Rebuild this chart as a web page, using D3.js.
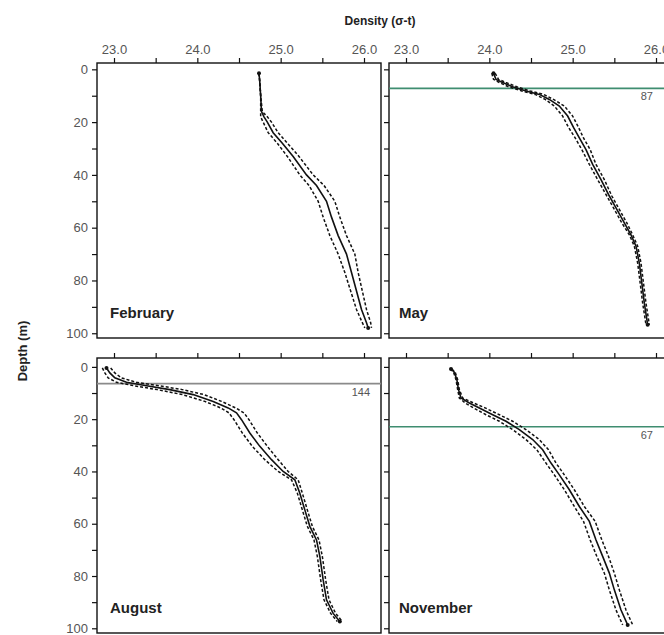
<!DOCTYPE html>
<html>
<head>
<meta charset="utf-8">
<script src="https://cdn.jsdelivr.net/npm/d3@7"></script>
<style>
  body { margin: 0; background: #fff; }
  svg { display: block; font-family: "Liberation Sans", Arial, sans-serif; }
</style>
</head>
<body>
<svg id="chart" width="664" height="635"></svg>
<script>
// density ticks (sigma-t) and depth ticks
const densityTicks = [23.0, 23.5, 24.0, 24.5, 25.0, 25.5, 26.0];
const depthTicks = [0, 10, 20, 30, 40, 50, 60, 70, 80, 90, 100];

// February
const febDepth = [1.5, 5, 10, 16, 18, 20, 24, 28, 33, 40, 44, 50, 56, 63, 70, 77, 84, 91, 96, 98];
const febMean  = [24.74, 24.75, 24.76, 24.77, 24.80, 24.84, 24.91, 25.02, 25.15, 25.31, 25.43, 25.55, 25.61, 25.69, 25.79, 25.85, 25.91, 25.97, 26.03, 26.05];
const febSd    = [0, 0, 0, 0.01, 0.04, 0.05, 0.06, 0.06, 0.07, 0.08, 0.09, 0.1, 0.1, 0.1, 0.1, 0.08, 0.07, 0.06, 0.05, 0.04];

// May
const mayDepth = [1.5, 3.8, 5, 6.6, 8.2, 9.5, 11.4, 13.9, 17.7, 22, 26, 30.4, 36, 41.8, 48, 52.5, 58.2, 62.7, 67, 73.4, 81, 88.6, 96.8];
const mayMean  = [24.05, 24.08, 24.16, 24.28, 24.44, 24.60, 24.72, 24.84, 24.94, 25.01, 25.08, 25.16, 25.24, 25.34, 25.44, 25.52, 25.62, 25.70, 25.76, 25.80, 25.83, 25.86, 25.90];
const maySd    = [0.02, 0.03, 0.04, 0.05, 0.05, 0.05, 0.05, 0.06, 0.06, 0.06, 0.05, 0.05, 0.04, 0.04, 0.03, 0.03, 0.03, 0.02, 0.02, 0.02, 0.02, 0.02, 0.02];

// August
const augDepth = [0.4, 2.3, 4.2, 5.9, 7.2, 8.7, 10.6, 13.2, 15.7, 17.6, 20.2, 25.3, 30.4, 35.5, 40, 43.2, 48.3, 54.7, 61, 66.2, 72.5, 81.5, 89.1, 94.3, 97.4];
const augMean  = [22.91, 22.95, 23.01, 23.15, 23.39, 23.67, 23.95, 24.19, 24.37, 24.47, 24.53, 24.63, 24.75, 24.89, 25.03, 25.17, 25.23, 25.29, 25.35, 25.43, 25.47, 25.51, 25.55, 25.63, 25.71];
const augSd    = [0.05, 0.06, 0.08, 0.12, 0.15, 0.15, 0.13, 0.1, 0.09, 0.09, 0.09, 0.09, 0.09, 0.08, 0.06, 0.04, 0.03, 0.03, 0.03, 0.03, 0.03, 0.03, 0.03, 0.03, 0.03];

// November
const novDepth = [0.8, 2, 4.9, 8.7, 11.9, 13.8, 15.7, 18.3, 20.8, 24, 27.8, 31.7, 36.8, 41.3, 47, 53.4, 59.1, 66.2, 72.5, 78.9, 85.3, 93, 98.7];
const novMean  = [23.54, 23.58, 23.61, 23.63, 23.66, 23.76, 23.88, 24.04, 24.20, 24.36, 24.52, 24.64, 24.74, 24.84, 24.96, 25.08, 25.20, 25.28, 25.36, 25.44, 25.50, 25.58, 25.66];
const novSd    = [0.01, 0.01, 0.01, 0.01, 0.02, 0.05, 0.07, 0.08, 0.08, 0.08, 0.08, 0.07, 0.06, 0.06, 0.06, 0.06, 0.07, 0.07, 0.07, 0.06, 0.06, 0.06, 0.06];

// mixed layer depth lines and sample counts
const monthNames = ["February", "May", "August", "November"];
const mldDepth   = [null, 7.2, 6.4, 22.9];
const mldCount   = [null, "87", "144", "67"];
const mldColor   = [null, "#3f8d70", "#8a8a8a", "#3f8d70"];

const panelData = [
  { depth: febDepth, mean: febMean, sd: febSd },
  { depth: mayDepth, mean: mayMean, sd: maySd },
  { depth: augDepth, mean: augMean, sd: augSd },
  { depth: novDepth, mean: novMean, sd: novSd }
];

const svg = d3.select("#chart");

// panel boxes
const colX = [97, 389];
const rowY = [63, 358];
const pw = 284, ph = 275;
const rowDomain = [[-2.4, 101.8], [-3.4, 101.8]];

panelData.forEach((pd, i) => {
  const col = i % 2, row = Math.floor(i / 2);
  const x0 = colX[col], y0 = rowY[row];

  const x = d3.scaleLinear().domain([22.796, 26.204]).range([x0, x0 + pw]);
  const y = d3.scaleLinear().domain(rowDomain[row]).range([y0, y0 + ph]);

  const g = svg.append("g");

  // top axis
  const xAxis = d3.axisTop(x)
    .tickValues(densityTicks)
    .tickSize(5)
    .tickPadding(4)
    .tickFormat(d => (row === 0 && Number.isInteger(d)) ? d.toFixed(1) : "");
  const gx = g.append("g").attr("transform", `translate(0,${y0})`).call(xAxis);

  // left axis
  const yAxis = d3.axisLeft(y)
    .tickValues(depthTicks)
    .tickSize(5)
    .tickPadding(4)
    .tickFormat(d => (col === 0 && d % 20 === 0) ? d : "");
  const gy = g.append("g").attr("transform", `translate(${x0},0)`).call(yAxis);

  [gx, gy].forEach(a => {
    a.select(".domain").remove();
    a.selectAll(".tick line").attr("stroke", "#111").attr("stroke-width", 1.2);
    a.selectAll(".tick text").attr("fill", "#555").style("font-size", "13px");
  });

  // frame
  g.append("rect")
    .attr("x", x0).attr("y", y0).attr("width", pw).attr("height", ph)
    .attr("fill", "none").attr("stroke", "#111").attr("stroke-width", 1.4);

  // mixed layer line
  if (mldDepth[i] !== null) {
    g.append("line")
      .attr("x1", x0).attr("x2", x0 + pw)
      .attr("y1", y(mldDepth[i])).attr("y2", y(mldDepth[i]))
      .attr("stroke", mldColor[i]).attr("stroke-width", 1.6);
    g.append("text")
      .attr("x", col === 0 ? x0 + pw - 11 : 653)
      .attr("y", y(mldDepth[i]) + 12)
      .attr("text-anchor", "end")
      .attr("fill", "#555")
      .style("font-size", "11px")
      .text(mldCount[i]);
  }

  const pts = pd.depth.map((d, k) => ({ depth: d, mean: pd.mean[k], sd: pd.sd[k] }));

  const meanLine = d3.line().x(d => x(d.mean)).y(d => y(d.depth));
  const loLine = d3.line().x(d => x(d.mean - d.sd)).y(d => y(d.depth));
  const hiLine = d3.line().x(d => x(d.mean + d.sd)).y(d => y(d.depth));

  [loLine, hiLine].forEach(l => {
    g.append("path").datum(pts).attr("d", l)
      .attr("fill", "none").attr("stroke", "#111")
      .attr("stroke-width", 1.5).attr("stroke-dasharray", "3,2");
  });
  g.append("path").datum(pts).attr("d", meanLine)
    .attr("fill", "none").attr("stroke", "#111").attr("stroke-width", 1.6);

  g.selectAll("circle.end")
    .data([pts[0], pts[pts.length - 1]])
    .join("circle")
    .attr("cx", d => x(d.mean)).attr("cy", d => y(d.depth))
    .attr("r", 2).attr("fill", "#111");

  // month label
  g.append("text")
    .attr("x", x0 + (col === 0 ? 13 : 10))
    .attr("y", y0 + ph - 20)
    .attr("fill", "#222")
    .style("font-size", "15px").style("font-weight", "bold")
    .text(monthNames[i]);
});

// axis titles
svg.append("text")
  .attr("x", 380).attr("y", 25)
  .attr("text-anchor", "middle")
  .attr("fill", "#222")
  .style("font-size", "12px").style("font-weight", "bold")
  .text("Density (σ-t)");

svg.append("text")
  .attr("transform", "translate(27,351) rotate(-90)")
  .attr("text-anchor", "middle")
  .attr("fill", "#222")
  .style("font-size", "13px").style("font-weight", "bold")
  .text("Depth (m)");
</script>
</body>
</html>
